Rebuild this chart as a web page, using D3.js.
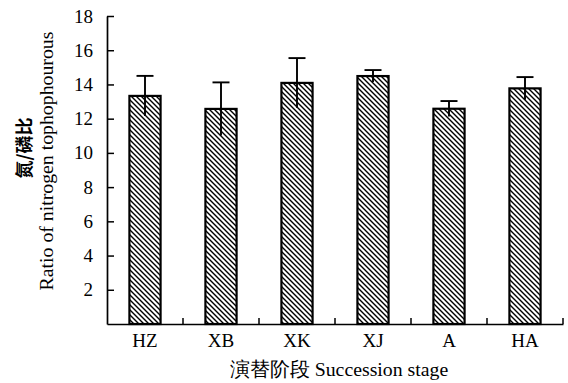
<!DOCTYPE html>
<html>
<head>
<meta charset="utf-8">
<script src="https://cdn.jsdelivr.net/npm/d3@7"></script>
<style>
  html, body { margin: 0; padding: 0; background: #fff; }
  svg { display: block; }
  text { fill: #000; }
</style>
</head>
<body>
<svg id="chart" width="568" height="383"></svg>
<script>
// Succession stages and their nitrogen/phosphorus ratios (mean ± SE)
const stages = ["HZ", "XB", "XK", "XJ", "A", "HA"];
const ratioMean = [13.33, 12.57, 14.09, 14.49, 12.58, 13.77];
const ratioErr = [1.17, 1.55, 1.45, 0.35, 0.45, 0.66];
const yTicks = [2, 4, 6, 8, 10, 12, 14, 16, 18];

const yLabelZh = "氮/磷比";
const yLabelEn = "Ratio of nitrogen tophophourous";
const xLabel = "演替阶段 Succession stage";

const svg = d3.select("#chart");
const serif = "'Liberation Serif', 'DejaVu Serif', serif";
const cjk = "'Noto Sans CJK SC', sans-serif";

const plotLeft = 107, plotRight = 563, plotTop = 16, plotBottom = 324;

const x = d3.scaleBand().domain(stages).range([plotLeft, plotRight]).padding(0);
const y = d3.scaleLinear().domain([0, 18]).range([plotBottom, plotTop]);

const barW = x.bandwidth() * 0.41;

// diagonal hatch fill
const defs = svg.append("defs");
const pat = defs.append("pattern")
  .attr("id", "hatch")
  .attr("patternUnits", "userSpaceOnUse")
  .attr("width", 5).attr("height", 5);
pat.append("rect").attr("width", 5).attr("height", 5).attr("fill", "#fff");
pat.append("path")
  .attr("d", "M-1,-1L6,6M-1,4L1,6M4,-1L6,1")
  .attr("stroke", "#000").attr("stroke-width", 1.4);

const data = stages.map((s, i) => ({ s, v: ratioMean[i], e: ratioErr[i] }));

// bars
svg.append("g").selectAll("rect").data(data).join("rect")
  .attr("x", d => x(d.s) + (x.bandwidth() - barW) / 2)
  .attr("y", d => y(d.v))
  .attr("width", barW)
  .attr("height", d => y(0) - y(d.v))
  .attr("fill", "url(#hatch)")
  .attr("stroke", "#000")
  .attr("stroke-width", 2.2);

// error bars
const eb = svg.append("g").attr("stroke", "#000").attr("stroke-width", 1.9);
eb.selectAll("line.v").data(data).join("line").attr("class", "v")
  .attr("x1", d => x(d.s) + x.bandwidth() / 2)
  .attr("x2", d => x(d.s) + x.bandwidth() / 2)
  .attr("y1", d => y(d.v - d.e))
  .attr("y2", d => y(d.v + d.e));
eb.selectAll("line.c").data(data).join("line").attr("class", "c")
  .attr("x1", d => x(d.s) + x.bandwidth() / 2 - 8.5)
  .attr("x2", d => x(d.s) + x.bandwidth() / 2 + 8.5)
  .attr("y1", d => y(d.v + d.e))
  .attr("y2", d => y(d.v + d.e));

// y axis: inward ticks, labels on the left
const yAxis = svg.append("g")
  .attr("transform", `translate(${plotLeft},0)`)
  .call(d3.axisLeft(y).tickValues(yTicks).tickSize(-7).tickSizeOuter(0).tickPadding(14));
yAxis.select(".domain").attr("stroke-width", 1.7);
yAxis.selectAll(".tick line").attr("stroke-width", 1.5);
yAxis.selectAll("text").attr("font-family", serif).attr("font-size", 19).attr("fill", "#000");

// x axis: category labels, ticks at band boundaries pointing up
const xAxis = svg.append("g")
  .attr("transform", `translate(0,${plotBottom})`)
  .call(d3.axisBottom(x).tickSize(0).tickSizeOuter(0).tickPadding(10));
xAxis.select(".domain").attr("stroke-width", 1.7);
xAxis.selectAll("text").attr("font-family", serif).attr("font-size", 19).attr("fill", "#000");

svg.append("g").selectAll("line").data(stages).join("line")
  .attr("x1", d => x(d) + x.step()).attr("x2", d => x(d) + x.step())
  .attr("y1", plotBottom).attr("y2", plotBottom - 6)
  .attr("stroke", "#000").attr("stroke-width", 1.5);

// axis titles
svg.append("text")
  .attr("transform", "translate(23,148) rotate(-90)")
  .attr("text-anchor", "middle").attr("dominant-baseline", "central")
  .attr("font-family", cjk).attr("font-size", 18).attr("font-weight", "bold")
  .text(yLabelZh);
svg.append("text")
  .attr("transform", "translate(53,161) rotate(-90)")
  .attr("text-anchor", "middle")
  .attr("font-family", serif).attr("font-size", 19.8)
  .text(yLabelEn);
svg.append("text")
  .attr("x", 339).attr("y", 376)
  .attr("text-anchor", "middle")
  .attr("font-family", serif).attr("font-size", 19.8)
  .text(xLabel);
</script>
</body>
</html>
